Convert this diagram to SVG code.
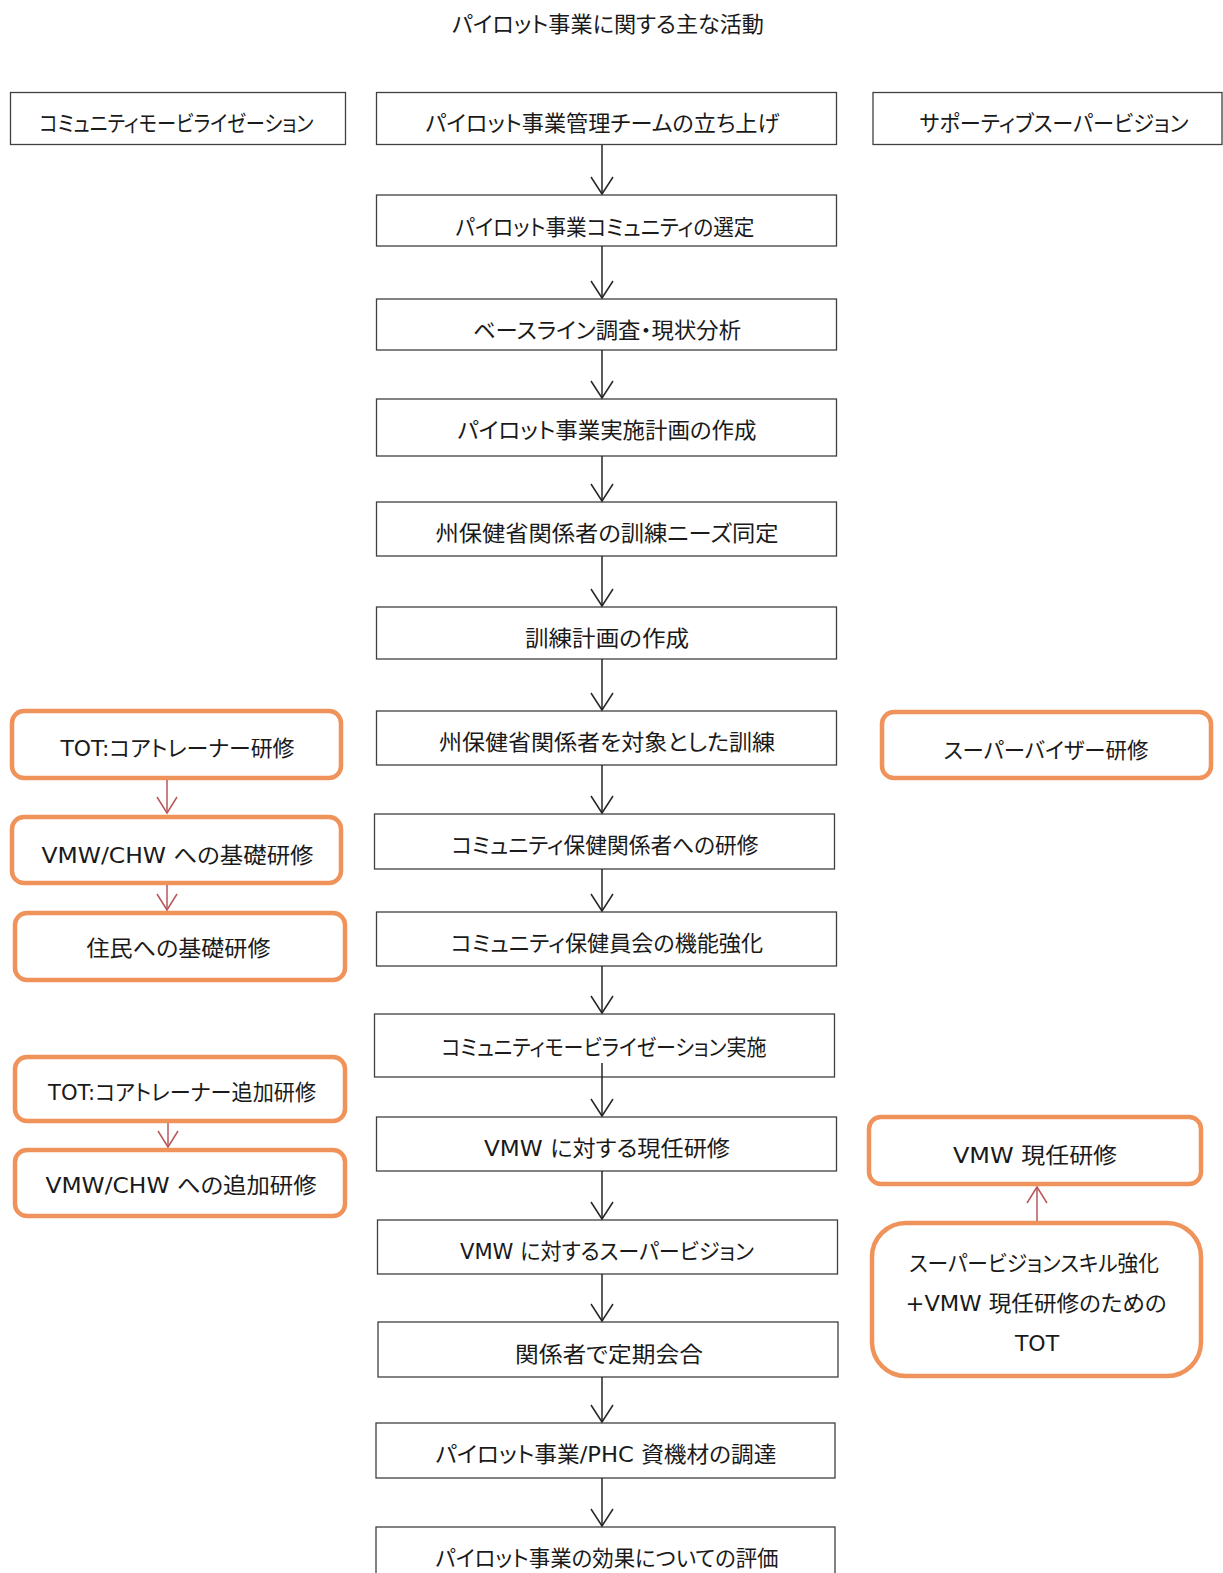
<svg xmlns="http://www.w3.org/2000/svg" width="1223" height="1573" viewBox="0 0 1223 1573">
  <style>
    .t { font-family: 'DejaVu Sans', 'Noto Sans CJK JP', sans-serif; font-size: 22px; fill: #1a1a1a; text-anchor: middle; font-feature-settings: 'palt'; }
    .box { fill: #ffffff; stroke: #404040; stroke-width: 1.3; }
    .obox { fill: #ffffff; stroke: #F0935B; stroke-width: 4.5; }
    .line { fill: none; stroke: #262626; stroke-width: 1.5; }
    .rline { fill: none; stroke: #B9575A; stroke-width: 1.5; }
  </style>
  <defs>
    <marker id="ah" viewBox="-19 -13 21 26" refX="0" refY="0" markerWidth="21" markerHeight="26" markerUnits="userSpaceOnUse" orient="auto">
      <path d="M-17,-11 L0,0 L-17,11" fill="none" stroke="#262626" stroke-width="1.5"/>
    </marker>
    <marker id="ahr" viewBox="-19 -13 21 26" refX="0" refY="0" markerWidth="21" markerHeight="26" markerUnits="userSpaceOnUse" orient="auto">
      <path d="M-16,-10 L0,0 L-16,10" fill="none" stroke="#B9575A" stroke-width="1.5"/>
    </marker>
  </defs>

  <rect width="1223" height="1573" fill="#ffffff"/>

  <text class="t" x="608" y="32" textLength="312" lengthAdjust="spacingAndGlyphs">パイロット事業に関する主な活動</text>

  <!-- column headers -->
  <g id="hdr-left">
    <rect class="box" x="10.5" y="92.5" width="335" height="52"/>
    <text class="t" x="176.5" y="130.5" textLength="274" lengthAdjust="spacingAndGlyphs">コミュニティモービライゼーション</text>
  </g>
  <g id="hdr-right">
    <rect class="box" x="873" y="92.5" width="349" height="52"/>
    <text class="t" x="1054" y="130.5" textLength="269" lengthAdjust="spacingAndGlyphs">サポーティブスーパービジョン</text>
  </g>

  <!-- main flow -->
  <g id="c1">
    <rect class="box" x="376.5" y="92.5" width="460" height="52"/>
    <text class="t" x="602.5" y="130.5" textLength="354" lengthAdjust="spacingAndGlyphs">パイロット事業管理チームの立ち上げ</text>
  </g>
  <g id="c2">
    <rect class="box" x="376.5" y="195" width="460" height="51"/>
    <text class="t" x="605" y="235" textLength="299" lengthAdjust="spacingAndGlyphs">パイロット事業コミュニティの選定</text>
  </g>
  <g id="c3">
    <rect class="box" x="376.5" y="299" width="460" height="51"/>
    <text class="t" x="607" y="338" textLength="268" lengthAdjust="spacingAndGlyphs">ベースライン調査・現状分析</text>
  </g>
  <g id="c4">
    <rect class="box" x="376.5" y="399" width="460" height="57"/>
    <text class="t" x="607" y="437.5" textLength="299" lengthAdjust="spacingAndGlyphs">パイロット事業実施計画の作成</text>
  </g>
  <g id="c5">
    <rect class="box" x="376.5" y="502" width="460" height="54"/>
    <text class="t" x="607" y="541" textLength="343" lengthAdjust="spacingAndGlyphs">州保健省関係者の訓練ニーズ同定</text>
  </g>
  <g id="c6">
    <rect class="box" x="376.5" y="607" width="460" height="52"/>
    <text class="t" x="607" y="646" textLength="164" lengthAdjust="spacingAndGlyphs">訓練計画の作成</text>
  </g>
  <g id="c7">
    <rect class="box" x="376.5" y="711" width="460" height="54"/>
    <text class="t" x="607" y="749.5" textLength="336" lengthAdjust="spacingAndGlyphs">州保健省関係者を対象とした訓練</text>
  </g>
  <g id="c8">
    <rect class="box" x="374.5" y="814" width="460" height="55"/>
    <text class="t" x="605" y="853" textLength="307" lengthAdjust="spacingAndGlyphs">コミュニティ保健関係者への研修</text>
  </g>
  <g id="c9">
    <rect class="box" x="376.5" y="912" width="460" height="54"/>
    <text class="t" x="607" y="951" textLength="312" lengthAdjust="spacingAndGlyphs">コミュニティ保健員会の機能強化</text>
  </g>
  <g id="c10">
    <rect class="box" x="374.5" y="1014" width="460" height="63"/>
    <text class="t" x="604" y="1054.5" textLength="325" lengthAdjust="spacingAndGlyphs">コミュニティモービライゼーション実施</text>
  </g>
  <g id="c11">
    <rect class="box" x="376.5" y="1117" width="460" height="54"/>
    <text class="t" x="607" y="1156" textLength="246" lengthAdjust="spacingAndGlyphs">VMW に対する現任研修</text>
  </g>
  <g id="c12">
    <rect class="box" x="377.5" y="1220" width="460" height="54"/>
    <text class="t" x="607" y="1259" textLength="294" lengthAdjust="spacingAndGlyphs">VMW に対するスーパービジョン</text>
  </g>
  <g id="c13">
    <rect class="box" x="378" y="1322" width="460" height="55"/>
    <text class="t" x="609" y="1361.5" textLength="188" lengthAdjust="spacingAndGlyphs">関係者で定期会合</text>
  </g>
  <g id="c14">
    <rect class="box" x="376" y="1423" width="459" height="55"/>
    <text class="t" x="606" y="1462" textLength="341" lengthAdjust="spacingAndGlyphs">パイロット事業/PHC 資機材の調達</text>
  </g>
  <g id="c15">
    <rect class="box" x="376" y="1527" width="459" height="60"/>
    <text class="t" x="607" y="1566" textLength="343" lengthAdjust="spacingAndGlyphs">パイロット事業の効果についての評価</text>
  </g>

  <!-- community mobilisation column -->
  <g id="l1">
    <rect class="obox" x="12" y="711" width="329" height="67" rx="12"/>
    <text class="t" x="177.5" y="756" textLength="234" lengthAdjust="spacingAndGlyphs">TOT:コアトレーナー研修</text>
  </g>
  <g id="l2">
    <rect class="obox" x="12" y="817" width="329" height="66" rx="12"/>
    <text class="t" x="177.5" y="863" textLength="272" lengthAdjust="spacingAndGlyphs">VMW/CHW への基礎研修</text>
  </g>
  <g id="l3">
    <rect class="obox" x="15" y="913" width="330" height="67" rx="12"/>
    <text class="t" x="178.5" y="956" textLength="184" lengthAdjust="spacingAndGlyphs">住民への基礎研修</text>
  </g>
  <g id="l4">
    <rect class="obox" x="15" y="1057" width="330" height="64" rx="12"/>
    <text class="t" x="182" y="1100" textLength="268" lengthAdjust="spacingAndGlyphs">TOT:コアトレーナー追加研修</text>
  </g>
  <g id="l5">
    <rect class="obox" x="15" y="1150" width="330" height="66" rx="12"/>
    <text class="t" x="181" y="1193" textLength="271" lengthAdjust="spacingAndGlyphs">VMW/CHW への追加研修</text>
  </g>

  <!-- supportive supervision column -->
  <g id="r1">
    <rect class="obox" x="882" y="712" width="329" height="66" rx="12"/>
    <text class="t" x="1046" y="758" textLength="205" lengthAdjust="spacingAndGlyphs">スーパーバイザー研修</text>
  </g>
  <g id="r2">
    <rect class="obox" x="869" y="1117" width="332" height="67" rx="12"/>
    <text class="t" x="1035" y="1163" textLength="164" lengthAdjust="spacingAndGlyphs">VMW 現任研修</text>
  </g>
  <g id="r3">
    <rect class="obox" x="872" y="1223" width="329" height="153" rx="34"/>
    <text class="t" x="1034" y="1271" textLength="250" lengthAdjust="spacingAndGlyphs">スーパービジョンスキル強化</text>
    <text class="t" x="1036" y="1311" textLength="261" lengthAdjust="spacingAndGlyphs">+VMW 現任研修のための</text>
    <text class="t" x="1037" y="1351">TOT</text>
  </g>

  <!-- connectors -->
  <g id="connectors">
    <line class="line" x1="602" y1="145" x2="602" y2="194" marker-end="url(#ah)"/>
    <line class="line" x1="602" y1="246" x2="602" y2="298" marker-end="url(#ah)"/>
    <line class="line" x1="602" y1="350" x2="602" y2="398" marker-end="url(#ah)"/>
    <line class="line" x1="602" y1="456" x2="602" y2="501" marker-end="url(#ah)"/>
    <line class="line" x1="602" y1="556" x2="602" y2="606" marker-end="url(#ah)"/>
    <line class="line" x1="602" y1="659" x2="602" y2="710" marker-end="url(#ah)"/>
    <line class="line" x1="602" y1="765" x2="602" y2="813" marker-end="url(#ah)"/>
    <line class="line" x1="602" y1="869" x2="602" y2="911" marker-end="url(#ah)"/>
    <line class="line" x1="602" y1="966" x2="602" y2="1013" marker-end="url(#ah)"/>
    <line class="line" x1="602" y1="1063" x2="602" y2="1116" marker-end="url(#ah)"/>
    <line class="line" x1="602" y1="1171" x2="602" y2="1219" marker-end="url(#ah)"/>
    <line class="line" x1="602" y1="1274" x2="602" y2="1321" marker-end="url(#ah)"/>
    <line class="line" x1="602" y1="1377" x2="602" y2="1422" marker-end="url(#ah)"/>
    <line class="line" x1="602" y1="1478" x2="602" y2="1526" marker-end="url(#ah)"/>

    <line class="rline" x1="167" y1="780" x2="167" y2="813" marker-end="url(#ahr)"/>
    <line class="rline" x1="167" y1="885" x2="167" y2="910" marker-end="url(#ahr)"/>
    <line class="rline" x1="168" y1="1123" x2="168" y2="1147" marker-end="url(#ahr)"/>
    <line class="rline" x1="1037" y1="1221" x2="1037" y2="1187" marker-end="url(#ahr)"/>
  </g>
</svg>
